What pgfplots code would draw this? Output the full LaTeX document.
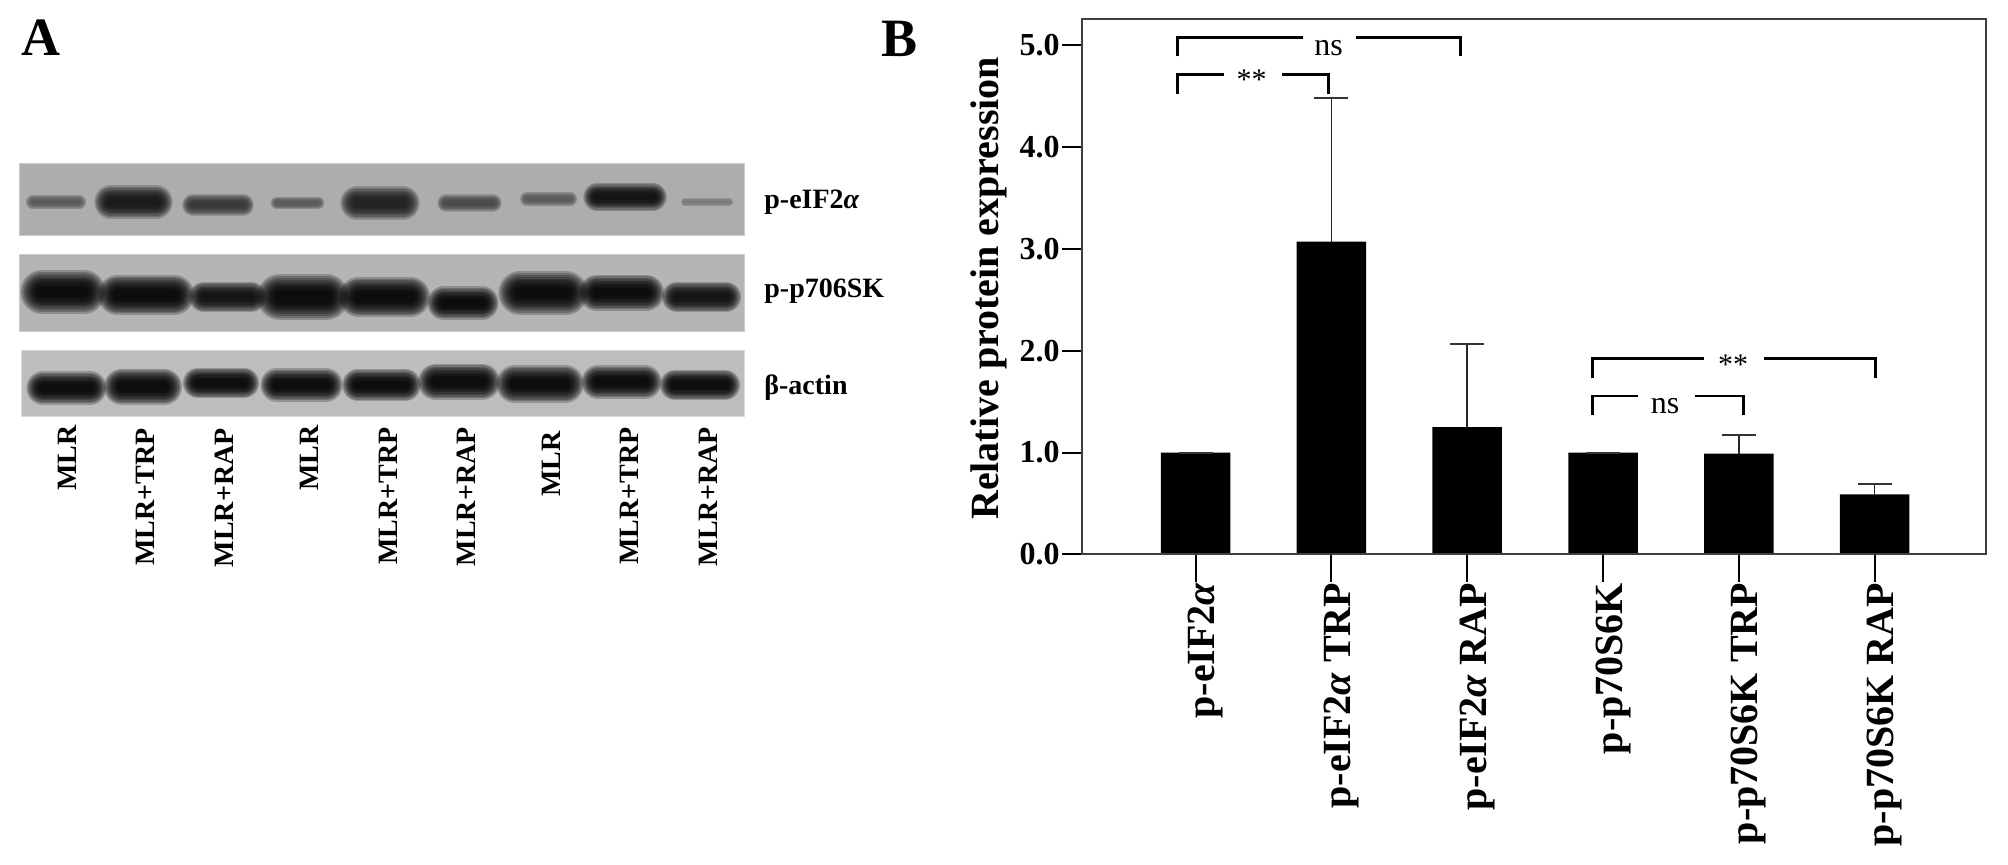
\documentclass[border=0pt]{standalone}
\usepackage{fontspec}
\setmainfont{Liberation Serif}
\usepackage{pgfplots}
\usepackage{pgfplotstable}
\pgfplotsset{compat=1.18}

\definecolor{blotA}{gray}{0.68}
\definecolor{blotB}{gray}{0.71}
\definecolor{blotC}{gray}{0.74}

% x1 x2 y thickness darkness factor, in reference pixels
\newcommand{\bandlayer}[6]{%
  \addplot[color=black!#5!blotA,line cap=round,line width=#6*#4pt,opacity=0.22] coordinates {(#1,#3)(#2,#3)};
}
\newcommand{\band}[5]{%
  \bandlayer{#1}{#2}{#3}{#4}{#5}{0.72}%
  \bandlayer{#1}{#2}{#3}{#4}{#5}{0.66}%
  \bandlayer{#1}{#2}{#3}{#4}{#5}{0.60}%
  \bandlayer{#1}{#2}{#3}{#4}{#5}{0.54}%
  \bandlayer{#1}{#2}{#3}{#4}{#5}{0.48}%
  \bandlayer{#1}{#2}{#3}{#4}{#5}{0.42}%
  \bandlayer{#1}{#2}{#3}{#4}{#5}{0.36}%
  \bandlayer{#1}{#2}{#3}{#4}{#5}{0.30}%
  \bandlayer{#1}{#2}{#3}{#4}{#5}{0.24}%
  \bandlayer{#1}{#2}{#3}{#4}{#5}{0.18}%
}
\newcommand{\lane}[3]{\node[rotate=90,anchor=east,inner sep=0pt,font=\bfseries\fontsize{14}{14}\selectfont] at (axis cs:#1,#2) {#3};}
\newcommand{\blotname}[2]{\node[anchor=west,inner sep=0pt,font=\bfseries\fontsize{14}{14}\selectfont] at (axis cs:764,#1) {#2};}

\pgfplotstableread{
x y e
0 1.00 0
1 3.07 1.41
2 1.25 0.82
3 1.00 0
4 0.99 0.18
5 0.59 0.10
}\bars

\pgfplotsset{
  panelb/.style={
    at={(541pt,155.25pt)},anchor=south west,
    scale only axis,width=452pt,height=267.75pt,
    xmin=-0.836,xmax=5.82,ymin=0,ymax=5.255,
    axis line style={line width=1pt,color=black!75},
    tick style={line width=1pt,color=black},
    tick align=outside,
    clip=false,
  },
  bracket/.style={line width=1.4pt,color=black},
}

\begin{document}
\begin{tikzpicture}
\path[use as bounding box] (0,0) rectangle (1004pt,432.5pt);

% panel A, in reference pixels
\begin{axis}[
  at={(0,0)},anchor=south west,
  scale only axis,width=1004pt,height=432.5pt,
  xmin=0,xmax=2008,ymin=0,ymax=865,y dir=reverse,
  hide axis,clip=false]
  \addplot[fill=blotA,draw=black!20,line width=0.5pt] coordinates {(19,164)(744,164)(744,236)(19,236)} --cycle;
  \addplot[fill=blotB,draw=black!20,line width=0.5pt] coordinates {(19,255)(744,255)(744,332)(19,332)} --cycle;
  \addplot[fill=blotC,draw=black!15,line width=0.5pt] coordinates {(21,351)(744,351)(744,417)(21,417)} --cycle;

  \band{33}{79}{202}{10}{50}
  \band{111}{156}{202}{23}{90}
  \band{193}{243}{205}{15}{70}
  \band{277}{318}{203}{9}{50}
  \band{357}{403}{203}{23}{85}
  \band{446}{493}{203}{12}{60}
  \band{527}{570}{199}{10}{50}
  \band{597}{653}{197}{19}{95}
  \band{685}{729}{202}{6}{30}

  \band{42}{84}{292}{30}{100}
  \band{118}{174}{295}{28}{100}
  \band{204}{251}{297}{21}{95}
  \band{280}{326}{297}{32}{100}
  \band{359}{410}{297}{28}{100}
  \band{444}{482}{303}{23}{100}
  \band{520}{566}{293}{30}{100}
  \band{597}{646}{293}{25}{100}
  \band{677}{726}{297}{21}{95}

  \band{43}{90}{388}{23}{100}
  \band{122}{164}{387}{25}{100}
  \band{198}{244}{383}{21}{100}
  \band{277}{326}{385}{23}{100}
  \band{358}{405}{385}{22}{100}
  \band{436}{482}{382}{25}{100}
  \band{515}{565}{384}{26}{100}
  \band{598}{645}{382}{23}{100}
  \band{675}{725}{385}{21}{100}

  \lane{67}{425}{MLR}
  \lane{145}{428}{MLR+TRP}
  \lane{224}{428}{MLR+RAP}
  \lane{309}{425}{MLR}
  \lane{388}{427}{MLR+TRP}
  \lane{466}{427}{MLR+RAP}
  \lane{551}{431}{MLR}
  \lane{629}{427}{MLR+TRP}
  \lane{708}{427}{MLR+RAP}

  \blotname{202}{p-eIF2{\itshape α}}
  \blotname{291}{p-p706SK}
  \blotname{388}{β-actin}

  \node[anchor=base west,inner sep=0pt,font=\bfseries\fontsize{27}{27}\selectfont] at (axis cs:21,56) {A};
  \node[anchor=base west,inner sep=0pt,font=\bfseries\fontsize{27}{27}\selectfont] at (axis cs:881,57) {B};
\end{axis}

% panel B, bars and y axis
\begin{axis}[
  panelb,
  xtick=\empty,
  ytick={0,1,2,3,4,5},ytick pos=left,
  major tick length=10pt,
  yticklabel style={font=\bfseries\fontsize{16}{16}\selectfont,inner sep=1pt},
  /pgf/number format/assume math mode=true,
  /pgf/number format/fixed,/pgf/number format/fixed zerofill,/pgf/number format/precision=1,
  ylabel={\bfseries\fontsize{20}{20}\selectfont Relative protein expression},
  ylabel style={at={(axis description cs:-0.103,0.497)},anchor=center},
]
  \addplot[ybar,bar width=34.75pt,fill=black,draw=none,
    error bars/.cd,y dir=plus,y explicit,
    error bar style={line width=0.8pt,color=black!85},
    error mark options={rotate=90,mark size=8.5pt,line width=1pt,color=black!80}]
    table[x=x,y=y,y error=e] {\bars};

  % significance brackets
  \addplot[bracket] coordinates {(-0.131,4.887)(-0.131,5.075)(0.792,5.075)};
  \addplot[bracket] coordinates {(1.182,5.075)(1.948,5.075)(1.948,4.887)};
  \addplot[bracket] coordinates {(-0.131,4.52)(-0.131,4.71)(0.208,4.71)};
  \addplot[bracket] coordinates {(0.640,4.71)(0.979,4.71)(0.979,4.52)};
  \addplot[bracket] coordinates {(2.92,1.736)(2.92,1.924)(3.744,1.924)};
  \addplot[bracket] coordinates {(4.186,1.924)(5.007,1.924)(5.007,1.736)};
  \addplot[bracket] coordinates {(2.92,1.367)(2.92,1.555)(3.259,1.555)};
  \addplot[bracket] coordinates {(3.675,1.555)(4.036,1.555)(4.036,1.367)};

  \node[font=\fontsize{16}{16}\selectfont,anchor=base] at (axis cs:0.98,4.9) {ns};
  \node[font=\fontsize{15}{15}\selectfont,anchor=base] at (axis cs:0.413,4.56) {**};
  \node[font=\fontsize{15}{15}\selectfont,anchor=base] at (axis cs:3.958,1.77) {**};
  \node[font=\fontsize{16}{16}\selectfont,anchor=base] at (axis cs:3.457,1.38) {ns};
\end{axis}

% panel B, x axis with the longer ticks
\begin{axis}[
  panelb,
  ytick=\empty,
  xtick={0,1,2,3,4,5},xtick pos=bottom,
  major tick length=14pt,
  xticklabels={p-eIF2{\itshape α},p-eIF2{\itshape α} TRP,p-eIF2{\itshape α} RAP,p-p70S6K,p-p70S6K TRP,p-p70S6K RAP},
  xticklabel style={xshift=5pt,rotate=90,anchor=east,inner sep=0pt,font=\bfseries\fontsize{20}{20}\selectfont},
]
  \addplot[draw=none] coordinates {(0,0)(5,0)};
\end{axis}
\end{tikzpicture}
\end{document}
